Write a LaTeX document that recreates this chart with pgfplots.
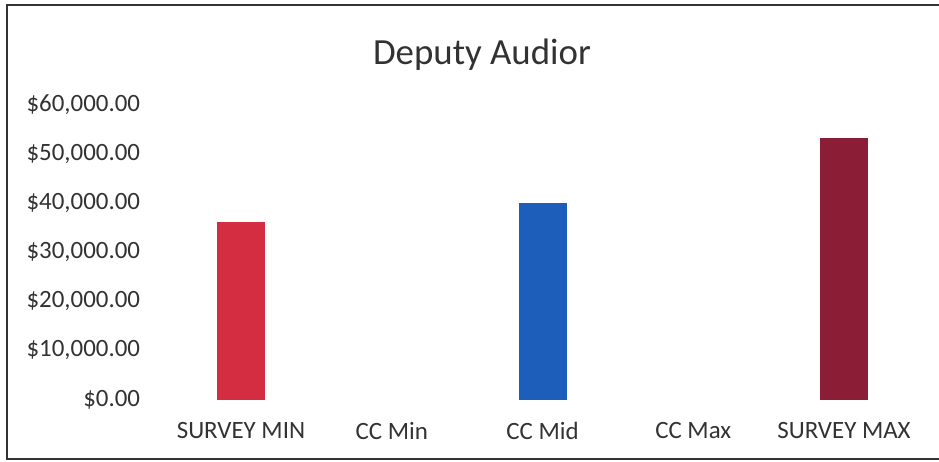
\documentclass[border=0pt]{standalone}
\usepackage{fontspec}
\setmainfont{Carlito}
\usepackage{pgfplots}
\pgfplotsset{compat=1.18}
\definecolor{survmin}{RGB}{212,45,66}
\definecolor{ccmid}{RGB}{28,94,186}
\definecolor{survmax}{RGB}{139,29,55}
\definecolor{txt}{RGB}{50,50,50}

\begin{document}
\begin{tikzpicture}
\useasboundingbox (0,0) rectangle (939bp,462bp);
% chart frame
\draw[black!80, line width=1.2bp] (7bp,3bp) rectangle (945bp,457bp);
\node[font=\fontsize{37}{42}\selectfont, text=txt] at (482bp,407bp) {Deputy Audior};

\begin{axis}[
    at={(165.6bp,62.5bp)}, anchor=south west,
    scale only axis,
    width=753.8bp, height=294.5bp,
    xmin=-0.5, xmax=4.5,
    ymin=0, ymax=60000,
    ybar, bar width=48bp,
    axis line style={draw=none},
    major tick length=0pt,
    xtick={0,1,2,3,4},
    xticklabels={SURVEY MIN, CC Min, CC Mid, CC Max, SURVEY MAX},
    ytick={0,10000,20000,30000,40000,50000,60000},
    yticklabels={\$0.00,{\$10,000.00},{\$20,000.00},{\$30,000.00},{\$40,000.00},{\$50,000.00},{\$60,000.00}},
    tick label style={font=\fontsize{25}{28}\selectfont, text=txt},
    yticklabel style={xshift=-22bp},
    xticklabel style={yshift=-19bp},
    scaled y ticks=false,
]
\addplot[fill=survmin, draw=none, bar shift=0pt] coordinates {(0,36100)};
\addplot[fill=ccmid, draw=none, bar shift=0pt] coordinates {(2,40000)};
\addplot[fill=survmax, draw=none, bar shift=0pt] coordinates {(4,53300)};
\end{axis}
\end{tikzpicture}
\end{document}
